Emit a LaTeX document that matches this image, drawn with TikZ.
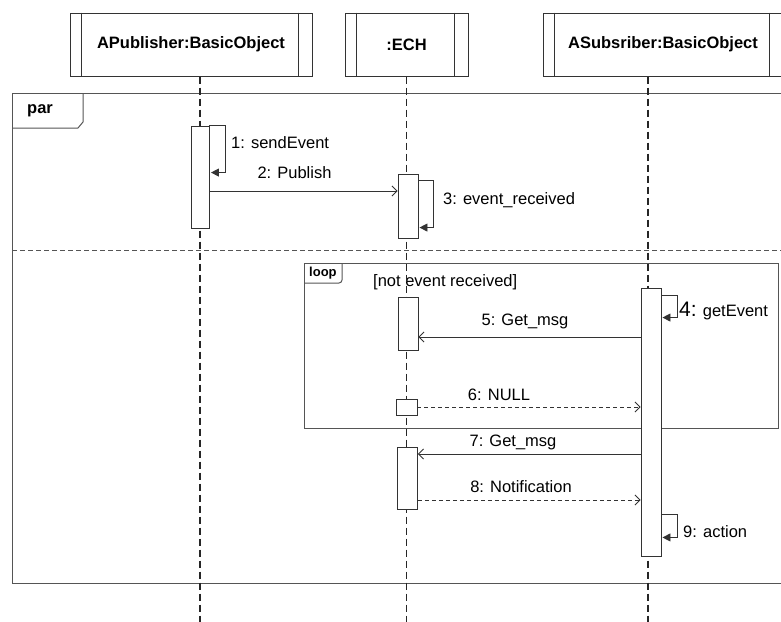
\documentclass[tikz,border=0pt]{standalone}
\usepackage{fontspec}
\setmainfont{Liberation Sans}
\usetikzlibrary{arrows.meta}
\definecolor{umlline}{HTML}{333333}
\definecolor{umlframe}{HTML}{555555}

\begin{document}
\begin{tikzpicture}[x=1pt,y=-1pt,font=\fontsize{16.5}{19}\selectfont,
  head/.style={draw=umlline,line width=1pt,minimum height=63pt,inner sep=0pt,font=\fontsize{16.5}{19}\selectfont\bfseries},
  actbar/.style={draw=umlline,fill=white,line width=0.9pt,minimum width=20pt,inner sep=0pt},
  lifeline/.style={draw=black!85,line width=1.4pt,dash pattern=on 7pt off 4pt},
  msg/.style={draw=umlline,line width=0.9pt,-{Straight Barb[length=5pt,width=10pt]}},
  reply/.style={msg,dash pattern=on 4pt off 3pt},
  selfmsg/.style={draw=umlline,line width=0.9pt,-{Triangle[length=8pt,width=8pt]}},
  fragframe/.style={draw=umlframe,line width=1pt},
  txt/.style={inner sep=0pt},
  lbl/.style={txt,anchor=west}]
\clip (0,0) rectangle (781,621);
% ---------- lifeline heads ----------
\node[head,minimum width=242pt] (pub) at (191,44.5) {APublisher:BasicObject};
\node[head,minimum width=123pt] (ech) at (406.5,44.5) {:ECH};
\node[head,minimum width=240pt] (sub) at (663,44.5) {ASubsriber:BasicObject};
\foreach \h in {pub,ech,sub} {
  \draw[umlline,line width=1pt] ([xshift=12pt]\h.north west) -- ([xshift=12pt]\h.south west);
  \draw[umlline,line width=1pt] ([xshift=-14pt]\h.north east) -- ([xshift=-14pt]\h.south east);
}
% ---------- par fragment ----------
\draw[fragframe] (790,93) -- (12,93) -- (12,583) -- (790,583);
\draw[fragframe] (12,128) -- (78,128) -- (83,122) -- (83,93);
\node[lbl,font=\fontsize{16.5}{19}\selectfont\bfseries] (partag) at (27,111) {par};
\draw[fragframe,dash pattern=on 5pt off 3pt] (12,250) -- (790,250);
% ---------- loop fragment ----------
\draw[fragframe] (304,263) rectangle (778,428);
\draw[fragframe,rounded corners=3pt] (304,283) -- (342,283) -- (342,263);
\node[lbl,font=\fontsize{13}{15}\selectfont\bfseries] (looptag) at (309,273) {loop};
\node[lbl] (guard) at (373,282) {[not event received]};
% ---------- lifelines ----------
\coordinate (bottom) at (0,625);
\node[actbar,minimum width=18pt,minimum height=102pt] (pubact) at (200,177) {};
\node[actbar,minimum height=268pt] (subact) at (651,422) {};
\coordinate (subline) at ([xshift=-3pt]subact.center);
\draw[lifeline] (pubact |- pub.south) -- (pubact |- bottom);
\draw[lifeline] (ech.south) -- (ech.south |- bottom);
\draw[lifeline] (subline |- sub.south) -- (subline |- bottom);
% ---------- activations ----------
\node[actbar,minimum width=18pt,minimum height=102pt] at (pubact) {};
\node[actbar,minimum height=64pt] (echact1) at (408,206) {};
\node[actbar,minimum height=53pt] (echact2) at (408,323.5) {};
\node[actbar,minimum width=21pt,minimum height=16pt] (echnull) at (406.5,407) {};
\node[actbar,minimum height=62pt] (echact3) at (407.5,478) {};
\node[actbar,minimum height=268pt] at (subact) {};
% ---------- messages ----------
\draw[selfmsg] (pubact.north east) -- ++(16,0) -- ++(0,47) -- ++(-14.5,0);
\draw[msg] (pubact.east |- 0,191) -- (echact1.west |- 0,191);
\draw[selfmsg] ([yshift=-7pt]echact1.north east) -- ++(15,0) -- ++(0,47) -- ++(-14,0);
\draw[selfmsg] ([yshift=-8pt]subact.north east) -- ++(16,0) -- ++(0,22) -- ++(-15,0);
\draw[msg] (subact.west |- 0,337) -- (echact2.east |- 0,337);
\draw[reply] (echnull.east) -- (subact.west |- echnull.east);
\draw[msg] (subact.west |- 0,454) -- (echact3.east |- 0,454);
\draw[reply] (echact3.east |- 0,500) -- (subact.west |- 0,500);
\draw[selfmsg] ([yshift=42pt]subact.south east) -- ++(16,0) -- ++(0,23) -- ++(-15,0);
% ---------- labels ----------
\node[lbl] (m1) at (231,143) {1: sendEvent};
\node[txt] (m2) at (294.5,173) {2: Publish};
\node[lbl] (m3) at (443,200) {3: event\_received};
\node[lbl] (m4) at (679,311) {{\fontsize{21}{21}\selectfont 4:} getEvent};
\node[txt] (m5) at (525,321) {5: Get\_msg};
\node[txt] (m6) at (499,395) {6: NULL};
\node[txt] (m7) at (513,442) {7: Get\_msg};
\node[txt] (m8) at (521,487) {8: Notification};
\node[lbl] (m9) at (683,532) {9: action};
\end{tikzpicture}
\end{document}
